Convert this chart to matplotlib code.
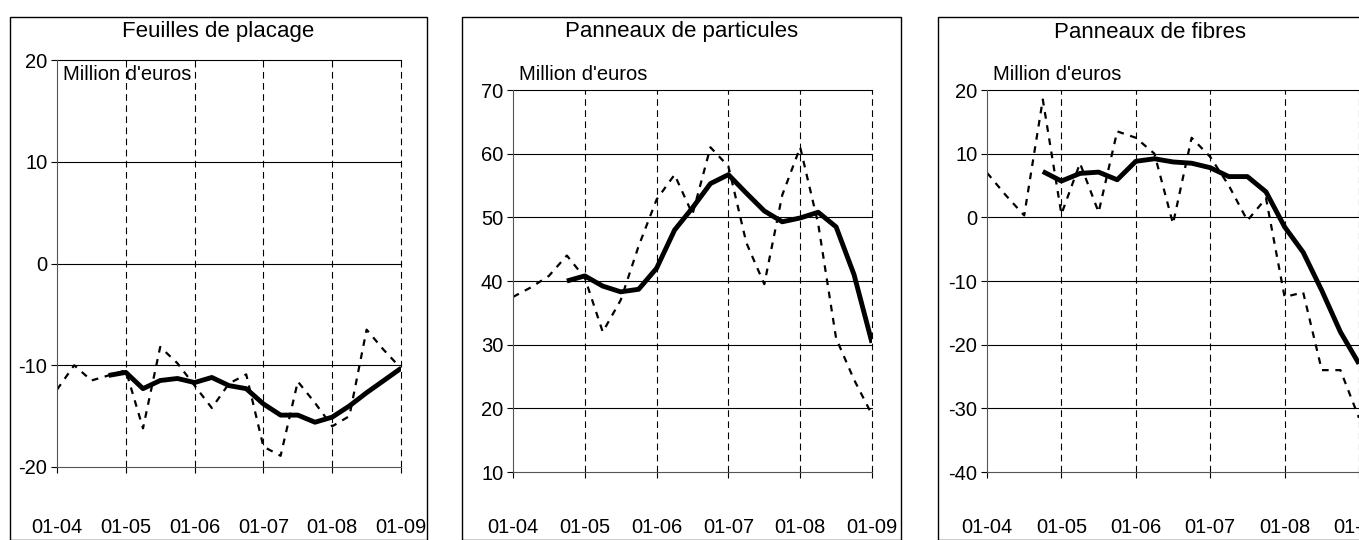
import matplotlib.pyplot as plt
from matplotlib.patches import Rectangle

plt.rcParams['font.family'] = ['Liberation Sans', 'DejaVu Sans']
plt.rcParams['axes.unicode_minus'] = False

# quarterly, 01-04 .. 01-09
n_q = 21
ticks = ['01-04', '01-05', '01-06', '01-07', '01-08', '01-09']

placage_q = [-12.4, -10, -11.5, -11, -10.5, -16.2, -8.2, -9.8, -12, -14.2, -11.8,
             -10.9, -18, -18.9, -11.6, -13.7, -16, -15, -6.5, -8.5, -10.3]
placage_avg = [-11, -10.7, -12.3, -11.5, -11.3, -11.7, -11.2, -12, -12.3, -13.8,
               -14.9, -14.9, -15.6, -15.1, -14, -12.7, -11.5, -10.3]

particules_q = [37.5, 39, 40.8, 44, 40.5, 32, 37, 45.5, 52.8, 56.7, 50.5,
                61, 58, 46, 39.5, 53.5, 61, 49, 31, 24.5, 19]
particules_avg = [40, 40.8, 39.2, 38.3, 38.7, 42, 48, 51.5, 55.3, 56.7, 53.8,
                  51, 49.3, 49.9, 50.8, 48.5, 41, 30.3]

fibres_q = [7, 3.5, 0.3, 18.5, 0.5, 8.5, 0.8, 13.5, 12.5, 10, -1,
            12.5, 9.5, 5, -0.5, 3, -12.5, -11.8, -24, -24, -31.5]
fibres_avg = [7.2, 5.7, 6.9, 7.1, 5.9, 8.8, 9.2, 8.7, 8.5, 7.8, 6.4, 6.4, 4,
              -1.5, -5.5, -11.5, -18, -23]

panels = [
    ('Feuilles de placage', placage_q, placage_avg, (-20, 20), 10,
     (10, 427), (57, 401), (60, 467)),
    ('Panneaux de particules', particules_q, particules_avg, (10, 70), 10,
     (462, 901), (513, 872), (90, 472)),
    ('Panneaux de fibres', fibres_q, fibres_avg, (-40, 20), 10,
     (938, 1362), (987, 1359), (90, 472)),
]

W, H = 1359, 540
fig = plt.figure(figsize=(W / 100, H / 100), dpi=100)

for title, q, avg, ylim, step, box, ax_x, ax_y in panels:
    fig.patches.append(Rectangle((box[0] / W, 0), (box[1] - box[0]) / W, (540 - 17) / H,
                                 transform=fig.transFigure, fill=False,
                                 edgecolor='black', lw=1))
    ax = fig.add_axes([ax_x[0] / W, 1 - ax_y[1] / H,
                       (ax_x[1] - ax_x[0]) / W, (ax_y[1] - ax_y[0]) / H])
    x = list(range(n_q))
    ax.plot(x, q, color='black', lw=1.6, ls=(0, (3, 3)))
    ax.plot(x[n_q - len(avg):], avg, color='black', lw=3.5, solid_capstyle='butt')
    ax.set_xlim(0, n_q - 1)
    ax.set_ylim(*ylim)
    ax.set_xticks(range(0, n_q, 4))
    ax.set_xticklabels(ticks, fontsize=14.5)
    ax.set_yticks(range(ylim[0], ylim[1] + 1, step))
    ax.tick_params(axis='y', labelsize=14.5, direction='out', length=4, pad=3)
    # labels sit at a common height across panels
    ax.tick_params(axis='x', direction='out', length=4, pad=(516 - ax_y[1] - 4) * 0.72)
    for v in range(ylim[0] + step, ylim[1] + 1, step):
        ax.axhline(v, color='black', lw=0.8, zorder=0, clip_on=False)
    for v in range(4, n_q, 4):
        ax.axvline(v, color='black', lw=0.8, ls=(0, (6, 4)), zorder=0, clip_on=False)
    for s in ['top', 'right']:
        ax.spines[s].set_visible(False)
    ax.spines['left'].set_color('#555555')
    ax.spines['bottom'].set_color('#555555')
    fig.text((box[0] + box[1]) / 2 / W, 1 - 32 / H, title, ha='center', va='center',
             fontsize=16)
    fig.text((ax_x[0] + 6) / W, 1 - 75 / H, "Million d'euros", ha='left', va='center',
             fontsize=14.5)

fig.savefig('out.png', dpi=100)
